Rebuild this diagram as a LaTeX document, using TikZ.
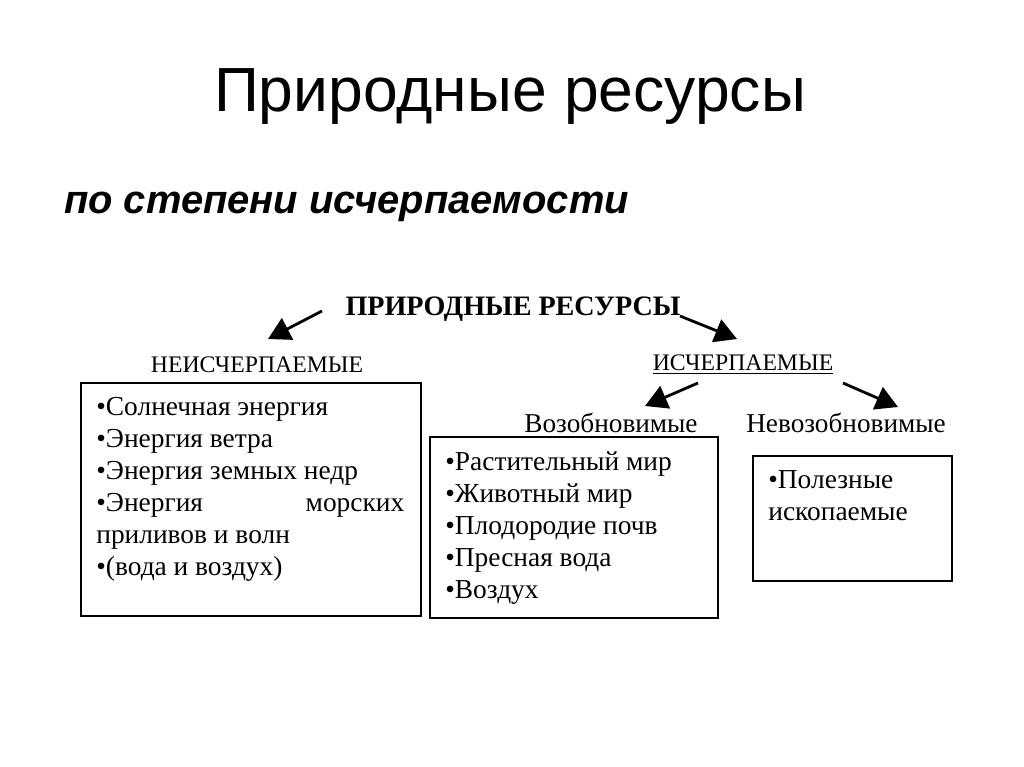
\documentclass[tikz,border=0pt]{standalone}
\usepackage{fontspec}
\setmainfont{Liberation Serif}
\newfontfamily\headfont{Liberation Sans}
\usetikzlibrary{arrows.meta}

\tikzstyle{box}=[draw,line width=1.1pt,inner sep=0pt,anchor=north west]
\tikzstyle{list}=[anchor=north west,align=left,inner sep=0pt,font=\fontsize{15.6}{18.2}\selectfont]
\tikzstyle{kind}=[font=\fontsize{13.5}{16}\selectfont]
\tikzstyle{sort}=[font=\fontsize{15.5}{18}\selectfont]
\tikzstyle{link}=[draw,line width=1.6pt,-{Triangle[length=0.44cm,width=0.48cm]}]

\begin{document}
\begin{tikzpicture}[x=0.02cm,y=-0.02cm]
     \useasboundingbox (0,0) rectangle (1024,767);
     % Headings of the slide
     \node[font=\headfont\fontsize{35.5}{40}\selectfont] (title) at (510,97) {Природные ресурсы};
     \node[font=\headfont\bfseries\itshape\fontsize{22.7}{28}\selectfont,anchor=west] (sub) at (58,207) {по степени исчерпаемости};
     % Top of the scheme and the kinds
     \node[font=\bfseries\fontsize{16}{20}\selectfont] (head) at (513,309) {ПРИРОДНЫЕ РЕСУРСЫ};
     \node[kind] (inex) at (257,365) {НЕИСЧЕРПАЕМЫЕ};
     \node[kind] (ex) at (743,365) {\underline{ИСЧЕРПАЕМЫЕ}};
     \node[sort] (ren) at (611,423) {Возобновимые};
     \node[sort] (nonren) at (846,423) {Невозобновимые};
     % Boxes
     \node[box,minimum width=6.8cm,minimum height=4.66cm] (lbox) at (80,382) {};
     \node[box,minimum width=5.76cm,minimum height=3.62cm] (mbox) at (429,436) {};
     \node[box,minimum width=3.98cm,minimum height=2.5cm] (rbox) at (752,455) {};
     % Texts in the boxes
     \node[list] (ltext) at (96,397) {•Солнечная энергия\\•Энергия ветра\\•Энергия земных недр\\\makebox[6.16cm][l]{•Энергия\hfill морских}\\приливов и волн\\•(вода и воздух)};
     \node[list] (mtext) at (445,451) {•Растительный мир\\•Животный мир\\•Плодородие почв\\•Пресная вода\\•Воздух};
     \node[list] (rtext) at (768,470) {•Полезные\\ископаемые};
     % Arrows
     \coordinate (t1) at (322,311);
     \coordinate (h1) at (268,339);
     \coordinate (t2) at (680,316);
     \coordinate (h2) at (737,339);
     \coordinate (t3) at (698,383);
     \coordinate (h3) at (645,406);
     \coordinate (t4) at (843,383);
     \coordinate (h4) at (898,407);
     \foreach \tl/\hd in {t1/h1, t2/h2, t3/h3, t4/h4}
     \path[link] (\tl) -- (\hd);
\end{tikzpicture}
\end{document}
